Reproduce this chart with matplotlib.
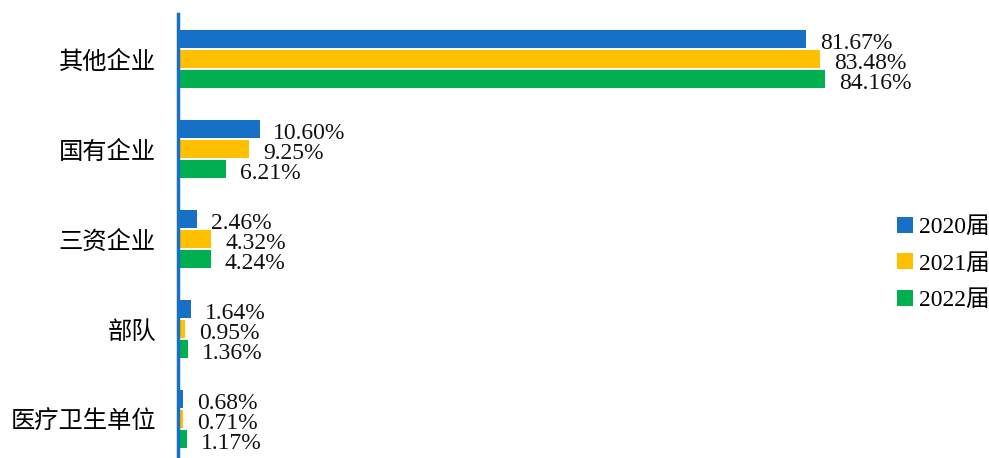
import numpy as np
import matplotlib
matplotlib.use('Agg')
import matplotlib.pyplot as plt

plt.rcParams['font.family'] = ['Liberation Serif', 'Noto Sans CJK SC']

categories = ['其他企业', '国有企业', '三资企业', '部队', '医疗卫生单位']
years = ['2020届', '2021届', '2022届']
v2020 = [81.67, 10.60, 2.46, 1.64, 0.68]
v2021 = [83.48, 9.25, 4.32, 0.95, 0.71]
v2022 = [84.16, 6.21, 4.24, 1.36, 1.17]
colors = ['#1570C6', '#FFC000', '#00AF50']

fig = plt.figure(figsize=(9.89, 4.58), dpi=100)
ax = fig.add_axes([178/989, 0, 769/989, 1 - 14/458])

y = np.arange(len(categories))
h = 0.222
for i, (vals, c, lab) in enumerate(zip([v2020, v2021, v2022], colors, years)):
    pos = y + (i - 1) * h
    bars = ax.barh(pos, vals, height=h - 0.012, color=c, label=lab)
    for yy, v in zip(pos, vals):
        ax.annotate('%.2f%%' % v, (v, yy), xytext=(10, -3), textcoords='offset points',
                    ha='left', va='center', fontsize=17, color='#111111')

ax.set_xlim(0, 100)
ax.set_ylim(4 + 39/90, -0.5)
ax.set_yticks(y)
ax.set_yticklabels(categories, fontsize=17.5, family=['Noto Sans CJK SC'])
ax.tick_params(axis='y', length=0, pad=16)
ax.set_xticks([])
for s in ['top', 'right', 'bottom']:
    ax.spines[s].set_visible(False)
ax.spines['left'].set_color('#1570C6')
ax.spines['left'].set_linewidth(2.5)

fig.legend(loc='center left', bbox_to_anchor=(888/989, 1 - 264/458), frameon=False,
           fontsize=17, handlelength=0.65, handleheight=0.65, handletextpad=0.25,
           labelspacing=0.65, borderaxespad=0)

fig.savefig('out.png', dpi=100)
